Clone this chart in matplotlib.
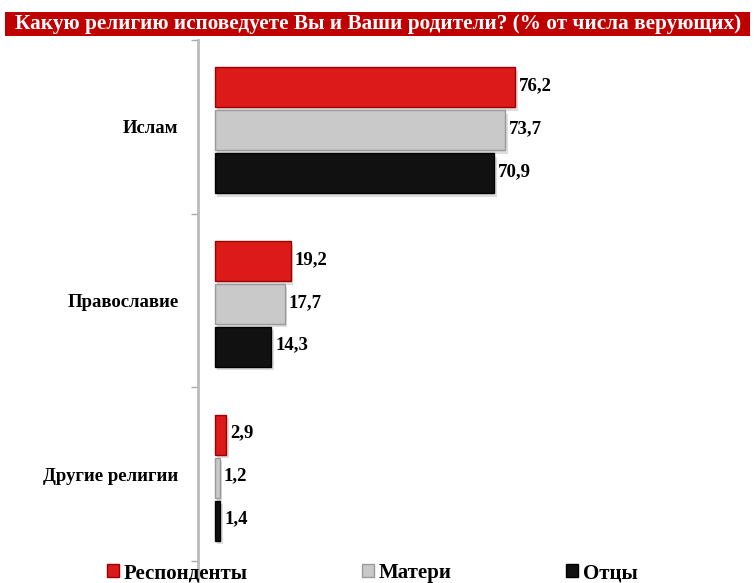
import matplotlib.pyplot as plt
from matplotlib.patches import Rectangle
from matplotlib.lines import Line2D
import numpy as np

categories = ["Ислам", "Православие", "Другие религии"]
series = ["Респонденты", "Матери", "Отцы"]
respondents = [76.2, 19.2, 2.9]
mothers = [73.7, 17.7, 1.2]
fathers = [70.9, 14.3, 1.4]
title = "Какую религию исповедуете Вы и Ваши родители? (% от числа верующих)"

plt.rcParams['font.family'] = ['Liberation Serif', 'DejaVu Serif']
plt.rcParams['font.weight'] = 'bold'

fig = plt.figure(figsize=(7.54, 5.83), dpi=100)
W, H = 754, 583

# title bar
fig.patches.append(Rectangle((5 / W, 1 - 36 / H), 745 / W, 24 / H,
                             transform=fig.transFigure, facecolor='#C00000',
                             edgecolor='none', zorder=0))
fig.text(378 / W, 1 - 24 / H, title, color='white', fontsize=15.3,
         fontweight='bold', ha='center', va='center')

ax = fig.add_axes([198 / W, (H - 561) / H, (745 - 198) / W, (561 - 40) / H])

colors = ['#DD1A1A', '#C9C9C9', '#111111']
edges = ['#9E0000', '#9A9A9A', '#000000']
values = [respondents, mothers, fathers]
y = np.arange(len(categories))
step = 0.247
h = 0.23
for k, vals in enumerate(values):
    pos = y + (k - 1) * step + 0.02
    # soft shadow
    ax.barh(pos + 0.02, vals, height=h, left=0.6, color='#DDDDDD',
            edgecolor='none', zorder=1)
    ax.barh(pos, vals, height=h, color=colors[k], edgecolor=edges[k],
            linewidth=1.0, label=series[k], zorder=2)
    for p, v in zip(pos, vals):
        ax.text(v + 1.0, p - 0.01, f"{v:.1f}".replace('.', ','), fontsize=13.5,
                fontweight='bold', va='center', ha='left', color='black')

ax.set_xlim(-4.3, 134.5)
ax.set_ylim(2.5, -0.5)
ax.set_yticks([-0.5, 0.5, 1.5, 2.5])
ax.set_yticklabels([])
ax.set_yticks(y, minor=True)
ax.set_yticklabels(categories, minor=True, fontsize=13.5, fontweight='bold')
ax.tick_params(axis='y', which='major', length=5, color='#AAAAAA', width=1)
ax.tick_params(axis='y', which='minor', length=0, pad=14)
ax.set_xticks([])
for s in ['top', 'right', 'bottom', 'left']:
    ax.spines[s].set_visible(False)
fig.lines.append(Line2D([198 / W, 198 / W], [1 - 40 / H, 0], transform=fig.transFigure,
                        color='#BBBBBB', linewidth=2))

handles, labels = ax.get_legend_handles_labels()
fig.legend(handles, labels, loc='center', bbox_to_anchor=(372 / W, 1 - 573 / H),
           ncol=3, frameon=False, handlelength=0.6,
           handleheight=0.6, handletextpad=0.2, columnspacing=5.5,
           prop={'weight': 'bold', 'size': 15})

fig.savefig('out.png', dpi=100)
